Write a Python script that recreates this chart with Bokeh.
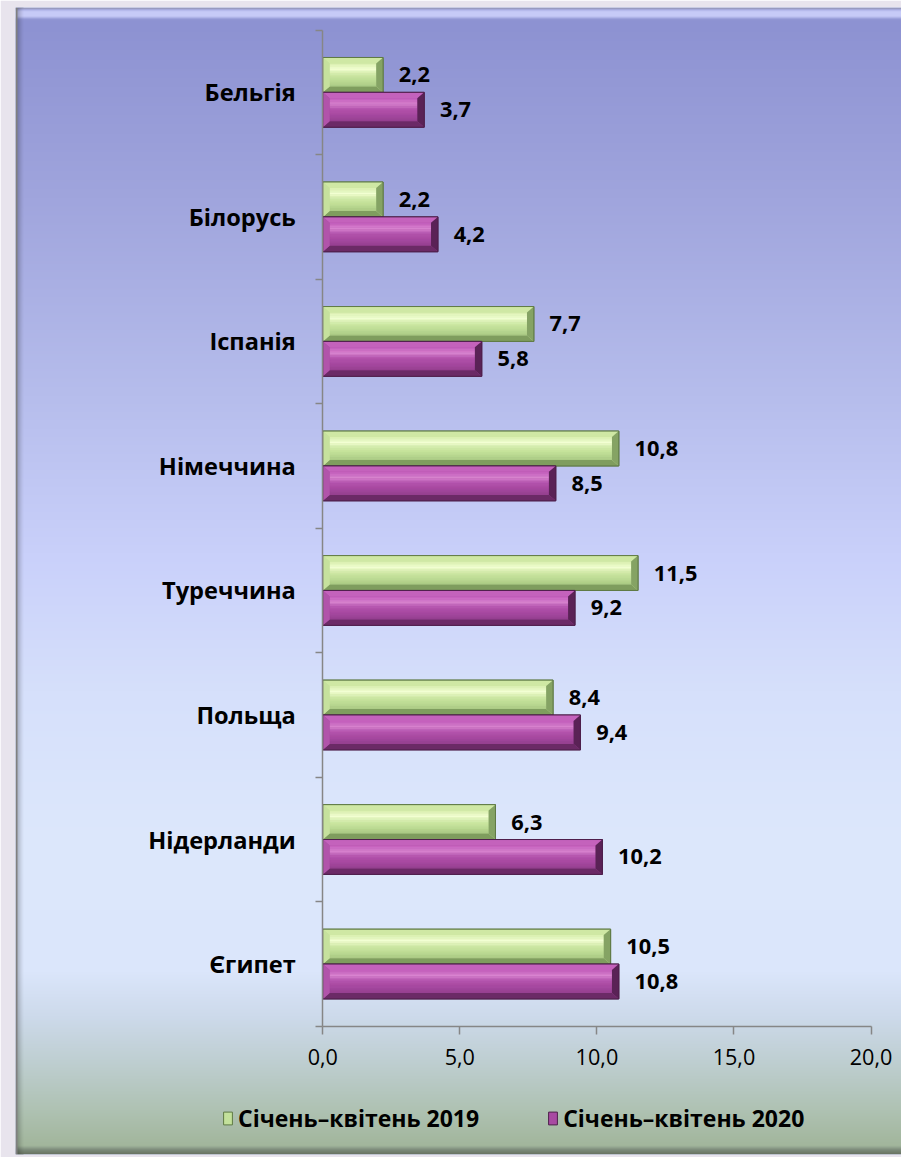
import numpy as np
from bokeh.plotting import figure
from bokeh.models import Range1d, LinearAxis, FixedTicker, Legend, LegendItem
from bokeh.core.properties import value
from bokeh.embed import file_html
from bokeh.resources import INLINE

# ---------------- data ----------------
countries = ["Єгипет", "Нідерланди", "Польща", "Туреччина", "Німеччина", "Іспанія", "Білорусь", "Бельгія"]
jan_apr_2019 = [10.5, 6.3, 8.4, 11.5, 10.8, 7.7, 2.2, 2.2]
jan_apr_2020 = [10.8, 10.2, 9.4, 9.2, 8.5, 5.8, 4.2, 3.7]
series_names = ["Січень–квітень 2019", "Січень–квітень 2020"]
x_ticks = [0, 5, 10, 15, 20]
x_tick_labels = ["0,0", "5,0", "10,0", "15,0", "20,0"]

# ---------------- geometry / style ----------------
FONT = "Open Sans"
REF_W, REF_H = 917, 1173          # design size
W, H = 901, 1157                  # figure size (fits window with margin)
SX, SY = W / REF_W, H / REF_H
MB_L, MB_T, MB_B = 15, 7, 3       # lavender page border around the chart box
PX_X = 27.9                       # design px per value unit
PX_Y = 126.25                     # design px per category
X0_D, Y0_D, YTOP_D = 328, 1040, 30
n = len(countries)

fl_d, fr_d = MB_L / SX, REF_W
ft_d, fb_d = MB_T / SY, (H - MB_B) / SY
x_start = (fl_d - X0_D) / PX_X
x_end = (fr_d - X0_D) / PX_X
y_start = -(fb_d - Y0_D) / PX_Y
y_end = n + (YTOP_D - ft_d) / PX_Y
BAR_H = 0.28

p = figure(width=W, height=H, output_backend="svg", toolbar_location=None,
           x_axis_type=None, y_axis_type=None,
           x_range=Range1d(x_start, x_end), y_range=Range1d(y_start, y_end),
           min_border_left=MB_L, min_border_right=0, min_border_top=MB_T, min_border_bottom=MB_B)
p.outline_line_color = None
p.border_fill_color = "#e8e4ed"
p.background_fill_color = "#c8d0f5"


def hex2rgb(h):
    h = h.lstrip("#")
    return [int(h[i:i + 2], 16) for i in (0, 2, 4)]


def rgb2hex(c):
    return "#%02x%02x%02x" % tuple(int(round(v)) for v in c)


# vertical background gradient (design y -> colour)
stops = [(7, "#8b8b98"), (9, "#a4a8e0"), (11, "#c6caf7"), (16, "#c6caf7"), (19, "#9095d4"),
         (22, "#8d92d2"), (200, "#a0a5dd"), (400, "#b6bdec"), (560, "#c9d0fa"), (700, "#d6e0fb"),
         (860, "#dde8fc"), (985, "#dbe6fb"), (1030, "#cddaeb"), (1075, "#bfcfd2"),
         (1125, "#afc2b3"), (1161, "#a2b69c"), (1165, "#7d8c7c"), (1170, "#66705f")]
sy_ = np.array([s[0] for s in stops], dtype=float)
sc_ = np.array([hex2rgb(s[1]) for s in stops], dtype=float)
rows = (np.arange(MB_T, H - MB_B) + 0.5) / SY
rgb = np.stack([np.interp(rows, sy_, sc_[:, k]) for k in range(3)], axis=1)


def to_img(rgb_arr):
    hgt, wid = rgb_arr.shape[0], rgb_arr.shape[1]
    a = np.empty((hgt, wid, 4), dtype=np.uint8)
    a[..., :3] = np.clip(rgb_arr, 0, 255).astype(np.uint8)
    a[..., 3] = 255
    return np.flipud(a.view(dtype=np.uint32).reshape(hgt, wid)).copy()


p.image_rgba(image=[to_img(rgb[:, None, :])], x=x_start, y=y_start, dw=x_end - x_start, dh=y_end - y_start)

# left bevel strip of the chart box
factors = [None, None, 0.80, 0.84, 0.88, 0.92, 0.95, 0.98]
strip = np.empty((len(rows), len(factors), 3))
for j, f in enumerate(factors):
    strip[:, j, :] = [128, 128, 128] if f is None else rgb * f
p.image_rgba(image=[to_img(strip)], x=x_start, y=y_start,
             dw=len(factors) / SX / PX_X, dh=y_end - y_start)

# ---------------- bars with bevel ----------------
g_centers = [i + 0.5 + BAR_H / 2 for i in range(n)]
m_centers = [i + 0.5 - BAR_H / 2 for i in range(n)]

# face gradient profile: (fraction from top of face, colour)
green = dict(base="#c3e19b", top="#cfe8a4", left="#c6e19d", bottom="#7f9d5e", right="#85a364",
             line="#5f7a45",
             face=[(0.0, "#d8efae"), (0.25, "#f3ffd3"), (0.5, "#cfe9a6"), (0.8, "#b9d890"), (1.0, "#a9c884")])
purple = dict(base="#a84aa2", top="#c462bc", left="#b154aa", bottom="#6b2a66", right="#5a2256",
              line="#4e1f4b",
              face=[(0.0, "#c35bbb"), (0.25, "#d884d0"), (0.5, "#b453ad"), (0.8, "#a3479d"), (1.0, "#94408e")])

BX = 7 / PX_X
BY = 6 / PX_Y
N_STRIPES = 14


def draw_bars(vals, centers, c):
    r = p.hbar(y=centers, right=vals, left=0, height=BAR_H, fill_color=c["base"], line_color=c["line"],
               line_width=1)
    fh = BAR_H - 2 * BY
    fpos = np.array([f[0] for f in c["face"]])
    fcol = np.array([hex2rgb(f[1]) for f in c["face"]], dtype=float)
    fr = [v - BX for v in vals]
    for k in range(N_STRIPES):
        t = (k + 0.5) / N_STRIPES
        col = rgb2hex([np.interp(t, fpos, fcol[:, j]) for j in range(3)])
        tops_ = [cy + BAR_H / 2 - BY - fh * k / N_STRIPES for cy in centers]
        bots_ = [cy + BAR_H / 2 - BY - fh * (k + 1) / N_STRIPES for cy in centers]
        p.quad(left=BX, right=fr, top=tops_, bottom=bots_, fill_color=col, line_color=col, line_width=0.3)
    tops, bots, lefts, rights = ([], []), ([], []), ([], []), ([], [])
    for v, cy in zip(vals, centers):
        yb, yt = cy - BAR_H / 2, cy + BAR_H / 2
        tops[0].append([0, v, v - BX, BX]); tops[1].append([yt, yt, yt - BY, yt - BY])
        bots[0].append([0, v, v - BX, BX]); bots[1].append([yb, yb, yb + BY, yb + BY])
        lefts[0].append([0, 0, BX, BX]); lefts[1].append([yb, yt, yt - BY, yb + BY])
        rights[0].append([v, v, v - BX, v - BX]); rights[1].append([yb, yt, yt - BY, yb + BY])
    for part, col in ((tops, c["top"]), (bots, c["bottom"]), (lefts, c["left"]), (rights, c["right"])):
        p.patches(xs=part[0], ys=part[1], fill_color=col, line_color=None)
    p.hbar(y=centers, right=vals, left=0, height=BAR_H, fill_color=None, line_color=c["line"], line_width=1)
    return r


r19 = draw_bars(jan_apr_2019, g_centers, green)
r20 = draw_bars(jan_apr_2020, m_centers, purple)


def fmt(v):
    return f"{v:.1f}".replace(".", ",")


for vals, centers in ((jan_apr_2019, g_centers), (jan_apr_2020, m_centers)):
    p.text(x=vals, y=centers, text=[fmt(v) for v in vals], x_offset=16 * SX, text_baseline="middle",
           text_align="left", text_font=value(FONT), text_font_style="bold", text_font_size="21.8px",
           text_color="#000000")

# ---------------- axes ----------------
AX_COL = "#868686"
xaxis = LinearAxis(ticker=FixedTicker(ticks=x_ticks, minor_ticks=[]),
                   major_label_overrides={t: l for t, l in zip(x_ticks, x_tick_labels)},
                   fixed_location=0, bounds=(x_ticks[0], x_ticks[-1]))
xaxis.axis_line_color = AX_COL
xaxis.axis_line_width = 1.5
xaxis.major_tick_line_color = AX_COL
xaxis.major_tick_line_width = 1.5
xaxis.major_tick_out = 8
xaxis.major_tick_in = 0
xaxis.minor_tick_line_color = None
xaxis.major_label_standoff = 15
xaxis.major_label_text_font = FONT
xaxis.major_label_text_font_size = "21.6px"
xaxis.major_label_text_color = "#000000"
p.add_layout(xaxis, "below")

yaxis = LinearAxis(ticker=FixedTicker(ticks=list(range(n + 1)), minor_ticks=[]),
                   fixed_location=0, bounds=(0, n))
yaxis.axis_line_color = AX_COL
yaxis.axis_line_width = 1.5
yaxis.major_tick_line_color = AX_COL
yaxis.major_tick_line_width = 1.5
yaxis.major_tick_out = 7
yaxis.major_tick_in = 0
yaxis.minor_tick_line_color = None
yaxis.major_label_text_color = None
p.add_layout(yaxis, "left")

cat_ticks = [i + 0.5 for i in range(n)]
cataxis = LinearAxis(ticker=FixedTicker(ticks=cat_ticks, minor_ticks=[]),
                     major_label_overrides={t: c for t, c in zip(cat_ticks, countries)},
                     fixed_location=0)
cataxis.axis_line_color = None
cataxis.major_tick_line_color = None
cataxis.minor_tick_line_color = None
cataxis.major_tick_out = 0
cataxis.major_tick_in = 0
cataxis.major_label_standoff = 27
cataxis.major_label_text_font = FONT
cataxis.major_label_text_font_style = "bold"
cataxis.major_label_text_font_size = "23.6px"
cataxis.major_label_text_color = "#000000"
p.add_layout(cataxis, "left")

# ---------------- legend ----------------
legend = Legend(items=[LegendItem(label=series_names[0], renderers=[r19]),
                       LegendItem(label=series_names[1], renderers=[r20])],
                orientation="horizontal", location=(207, 20), padding=0, margin=0,
                spacing=68, glyph_width=11, glyph_height=16, label_standoff=5,
                border_line_color=None, background_fill_alpha=0,
                label_text_font=FONT, label_text_font_style="bold", label_text_font_size="23px",
                label_text_color="#000000")
p.add_layout(legend)

open("out.html", "w").write(file_html(p, INLINE))
